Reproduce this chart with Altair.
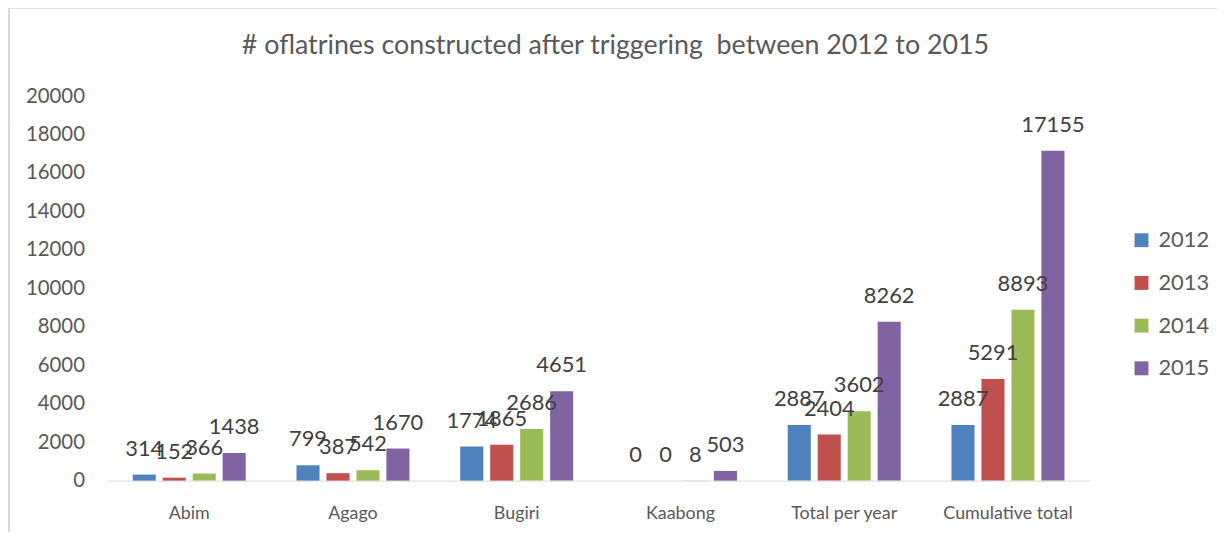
import altair as alt
import pandas as pd

categories = ["Abim", "Agago", "Bugiri", "Kaabong", "Total per year", "Cumulative total"]
years = ["2012", "2013", "2014", "2015"]
v2012 = [314, 799, 1774, 0, 2887, 2887]
v2013 = [152, 387, 1865, 0, 2404, 5291]
v2014 = [366, 542, 2686, 8, 3602, 8893]
v2015 = [1438, 1670, 4651, 503, 8262, 17155]
colors = ["#4F81BD", "#C0504D", "#9BBB59", "#8064A2"]
title_text = "# oflatrines constructed after triggering \u00a0between 2012 to 2015"

rows = []
for yr, vals in zip(years, [v2012, v2013, v2014, v2015]):
    for c, v in zip(categories, vals):
        rows.append({"cat": c, "year": yr, "value": v})
df = pd.DataFrame(rows)

FONT = "Lato"
W, H = 989, 387

x = alt.X("cat:N", sort=categories, title=None,
          scale=alt.Scale(paddingInner=0.31, paddingOuter=0.155),
          axis=alt.Axis(labelAngle=0, ticks=False, domainColor="#d9d9d9", domainWidth=1,
                        labelFont=FONT, labelFontSize=18, labelColor="#595959", labelPadding=24))
xo = alt.XOffset("year:N", sort=years, scale=alt.Scale(paddingInner=0.23, paddingOuter=0))
y = alt.Y("value:Q", title=None,
          scale=alt.Scale(domain=[0, 20000], nice=False),
          axis=alt.Axis(values=list(range(0, 20001, 2000)), format="d", labelOverlap=False,
                        grid=False, domain=False, ticks=False,
                        labelFont=FONT, labelFontSize=20.5, labelColor="#595959", labelPadding=23))
color = alt.Color("year:N", sort=years, scale=alt.Scale(domain=years, range=colors),
                  legend=alt.Legend(title=None, orient="none", legendX=1030, legendY=134,
                                    symbolType="square", symbolSize=196, symbolStrokeWidth=0,
                                    labelFont=FONT, labelFontSize=22, labelColor="#595959",
                                    rowPadding=21, labelOffset=6))

base = alt.Chart(df)
bars = base.mark_bar().encode(x=x, xOffset=xo, y=y, color=color)
labels = base.mark_text(baseline="bottom", dy=-14, font=FONT, fontSize=22, color="#404040").encode(
    x=x, xOffset=xo, y=y, text="value:Q")

title_df = pd.DataFrame({"t": [title_text]})
title = alt.Chart(title_df).mark_text(font=FONT, fontSize=27, color="#595959", baseline="middle").encode(
    text="t:N", x=alt.value(W / 2 + 17), y=alt.value(-50))

frame_left = alt.Chart(title_df).mark_rule(color="#d9d9d9", strokeWidth=2).encode(
    x=alt.value(-99), y=alt.value(-89), y2=alt.value(460))
frame_top = alt.Chart(title_df).mark_rule(color="#d9d9d9", strokeWidth=2).encode(
    x=alt.value(-99), x2=alt.value(1125), y=alt.value(-89))

chart = alt.layer(frame_left, frame_top, bars, labels, title).properties(
    width=W, height=H,
    autosize=alt.AutoSizeParams(type="none"),
    padding={"left": 100, "top": 87, "right": 128, "bottom": 50},
).configure_view(stroke=None)

chart.save("out.html", embed_options={"renderer": "svg", "actions": False})
